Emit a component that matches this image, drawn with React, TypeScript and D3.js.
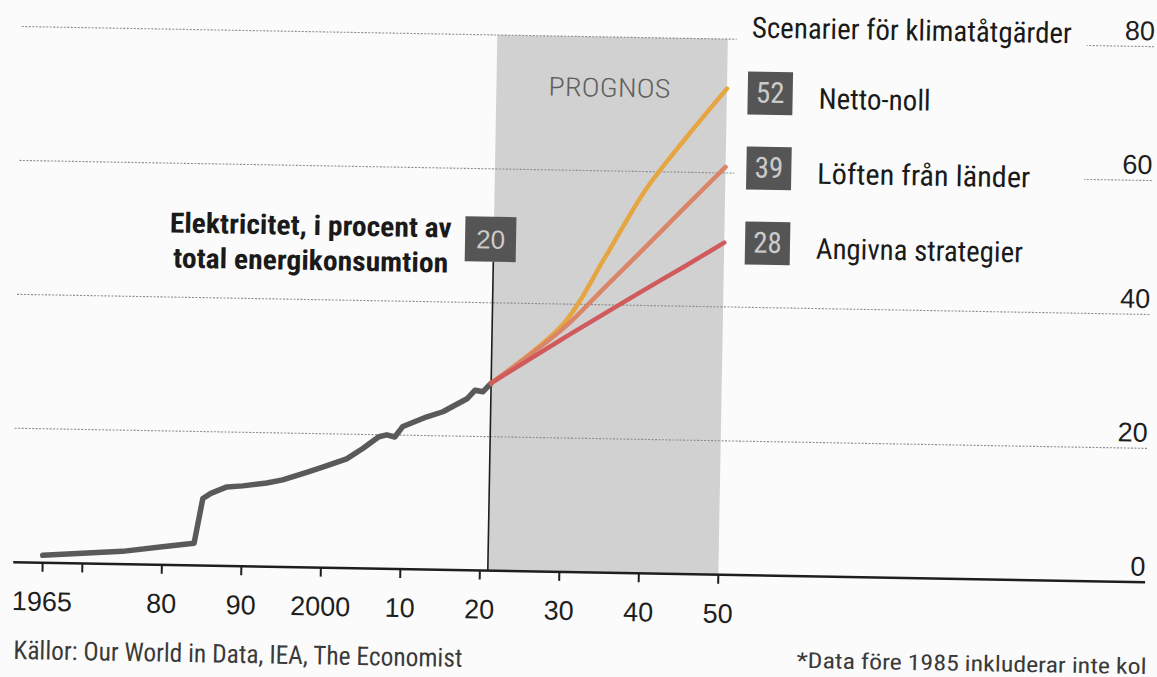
import React from 'react';
import * as d3 from 'd3';

// ---- Data ----
const histYears = [1965, 1970, 1975, 1980, 1984, 1985, 1986, 1988, 1990, 1993, 1995, 1998, 2000, 2003, 2005, 2007, 2008, 2009, 2010, 2013, 2015, 2018, 2019, 2020, 2021];
const histValues = [1.1, 1.5, 1.9, 2.7, 3.3, 10.0, 10.8, 11.8, 12.0, 12.5, 13.0, 14.2, 15.0, 16.3, 17.9, 19.7, 20.0, 19.7, 21.3, 22.8, 23.6, 25.6, 26.9, 26.7, 28.0];

const forecastYears = [2021, 2030, 2035, 2040, 2045, 2050];
const nettoNoll = [28, 37.1, 47.0, 57.3, 65.2, 72.6];
const loften = [28, 36.4, 42.5, 48.6, 54.8, 60.9];
const angivna = [28, 34.9, 38.6, 42.3, 45.9, 49.6];

const scenarioNames = ['Netto-noll', 'Löften från länder', 'Angivna strategier'];
const scenarioBadges = ['52', '39', '28'];
const scenarioColors = ['#e5a540', '#da8468', '#d05a5c'];
const scenarioSeries = [nettoNoll, loften, angivna];

const xTickYears = [1965, 1970, 1980, 1990, 2000, 2010, 2020, 2030, 2040, 2050];
const xTickLabels = ['1965', '', '80', '90', '2000', '10', '20', '30', '40', '50'];
const yTicks = [0, 20, 40, 60, 80];

const W = 1157;
const H = 677;
const BG = '#fbfbfb';
const NARROW = "'Liberation Sans Narrow', 'Roboto Condensed', 'DejaVu Sans Condensed', 'Liberation Sans', Arial, sans-serif";
const REG = "'Liberation Sans', Arial, sans-serif";

export default function App() {
  const x = d3.scaleLinear().domain([1965, 2050]).range([47.4, 723.2]);
  const y = d3.scaleLinear().domain([0, 80]).range([572.2, 36.5]);

  const line = d3
    .line<number>()
    .x((_, i) => x(histYears[i]))
    .y((d) => y(d))
    .curve(d3.curveLinear);

  const fLine = d3
    .line<number>()
    .x((_, i) => x(forecastYears[i]))
    .y((d) => y(d))
    .curve(d3.curveCatmullRom.alpha(0.5));

  const legendNames = scenarioNames.map((n, i) => ({ n, i }));
  const labelWidths = [112, 213, 207];

  return (
    <svg
      width={W}
      height={H}
      style={{ position: 'absolute', left: 0, top: 0, background: BG }}
    >
      <rect x={0} y={0} width={W} height={H} fill={BG} />
      <g transform="rotate(1.02, 580, 300)">
        {/* forecast shading */}
        <rect
          x={x(2021)}
          y={y(80)}
          width={x(2050) - x(2021)}
          height={y(0) - y(80)}
          fill="#d1d1d1"
        />
        {/* gridlines */}
        {yTicks.filter((t) => t > 0).map((t) => (
          <line
            key={t}
            x1={17}
            x2={1150}
            y1={y(t)}
            y2={y(t)}
            stroke="#8c8c8c"
            strokeWidth={1.1}
            strokeDasharray="2 1.5"
          />
        ))}
        {/* legend background masking gridlines */}
        <rect x={732} y={-20} width={350} height={290} fill={BG} />

        {/* right axis labels */}
        {yTicks.map((t) => (
          <text
            key={t}
            x={1150}
            y={y(t) - 6.5}
            textAnchor="end"
            fontFamily={REG}
            fontSize={27}
            fill="#1e1e1e"
          >
            {t}
          </text>
        ))}

        {/* PROGNOS */}
        <text
          x={544.7}
          y={96.2}
          fontFamily={NARROW}
          fontSize={26}
          fontWeight={300}
          fill="#606060"
          textLength={122}
          lengthAdjust="spacingAndGlyphs"
        >
          PROGNOS
        </text>

        {/* x axis */}
        <line x1={18} x2={1150} y1={y(0)} y2={y(0)} stroke="#1e1e1e" strokeWidth={2.5} />
        {xTickYears.map((yr, i) => (
          <g key={yr}>
            <line x1={x(yr)} x2={x(yr)} y1={y(0)} y2={y(0) + 9} stroke="#1e1e1e" strokeWidth={2} />
            {xTickLabels[i] && (
              <text
                x={x(yr)}
                y={y(0) + 48}
                textAnchor="middle"
                fontFamily={REG}
                fontSize={27}
                fill="#1e1e1e"
              >
                {xTickLabels[i]}
              </text>
            )}
          </g>
        ))}

        {/* 2021 marker line and badge */}
        <line x1={x(2021)} x2={x(2021)} y1={263} y2={y(0)} stroke="#1e1e1e" strokeWidth={1.6} />
        <rect x={464} y={218.3} width={51} height={45} fill="#555555" />
        <text x={489.5} y={250} textAnchor="middle" fontFamily={REG} fontSize={26} fill="#cbcbcb">
          20
        </text>

        {/* annotation */}
        <text
          x={450.5}
          y={239.8}
          textAnchor="end"
          fontFamily={NARROW}
          fontWeight="bold"
          fontSize={28}
          fill="#1a1a1a"
          textLength={282}
          lengthAdjust="spacingAndGlyphs"
        >
          Elektricitet, i procent av
        </text>
        <text
          x={447.5}
          y={274.8}
          textAnchor="end"
          fontFamily={NARROW}
          fontWeight="bold"
          fontSize={28}
          fill="#1a1a1a"
          textLength={275}
          lengthAdjust="spacingAndGlyphs"
        >
          total energikonsumtion
        </text>

        {/* historical line */}
        <path
          d={line(histValues) || ''}
          fill="none"
          stroke="#5a5a5a"
          strokeWidth={5.5}
          strokeLinejoin="round"
          strokeLinecap="round"
        />

        {/* scenario lines */}
        {scenarioSeries.map((s, i) => (
          <path
            key={i}
            d={fLine(s) || ''}
            fill="none"
            stroke={scenarioColors[i]}
            strokeWidth={4.5}
            strokeLinejoin="round"
            strokeLinecap="round"
          />
        ))}

        {/* legend */}
        <text
          x={747}
          y={34.5}
          fontFamily={NARROW}
          fontSize={29}
          fill="#1a1a1a"
          textLength={320}
          lengthAdjust="spacingAndGlyphs"
        >
          Scenarier för klimatåtgärder
        </text>
        {legendNames.map(({ n, i }) => {
          const top = 68.5 + i * 75;
          return (
            <g key={n}>
              <rect x={744} y={top} width={45} height={43} fill="#555555" />
              <text
                x={766.5}
                y={top + 31}
                textAnchor="middle"
                fontFamily={NARROW}
                fontSize={29}
                fill="#cbcbcb"
              >
                {scenarioBadges[i]}
              </text>
              <text
                x={815}
                y={top + 36}
                fontFamily={NARROW}
                fontSize={29}
                fill="#1a1a1a"
                textLength={labelWidths[i]}
                lengthAdjust="spacingAndGlyphs"
              >
                {n}
              </text>
            </g>
          );
        })}

        {/* sources & footnote */}
        <text
          x={19.8}
          y={669}
          fontFamily={NARROW}
          fontSize={26}
          fill="#3a3a3a"
          textLength={449}
          lengthAdjust="spacingAndGlyphs"
        >
          Källor: Our World in Data, IEA, The Economist
        </text>
        <text
          x={803}
          y={664}
          fontFamily={NARROW}
          fontSize={22}
          fill="#3a3a3a"
          textLength={350}
          lengthAdjust="spacingAndGlyphs"
        >
          *Data före 1985 inkluderar inte kol
        </text>
      </g>
    </svg>
  );
}
